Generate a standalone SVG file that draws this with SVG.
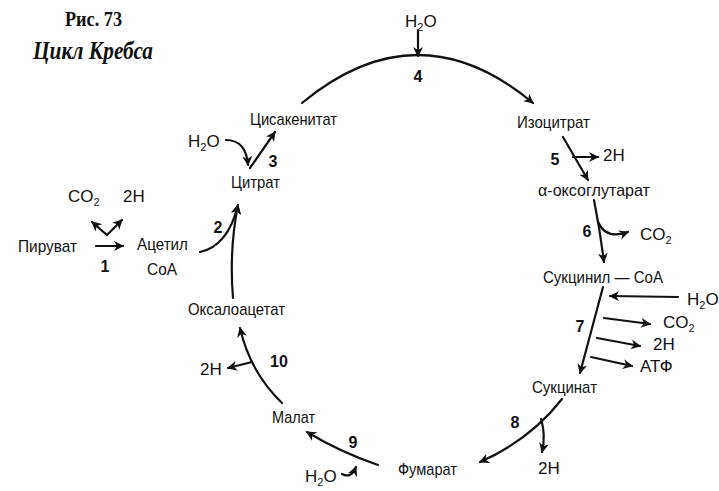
<svg xmlns="http://www.w3.org/2000/svg" width="719" height="491" viewBox="0 0 719 491">
<defs>
<marker id="ah" viewBox="0 0 10 10" refX="9" refY="5" markerWidth="10" markerHeight="10" markerUnits="userSpaceOnUse" orient="auto-start-reverse">
<path d="M0,0 L10,5 L0,10 L3,5 Z" fill="#111"/>
</marker>
<style>
.lbl{font-family:"Liberation Sans",Arial,sans-serif;font-size:17px;fill:#111}
.num{font-family:"Liberation Sans",Arial,sans-serif;font-size:16px;font-weight:bold;fill:#111;text-anchor:middle}
.sub{font-size:11px}
.c path{fill:none;stroke:#111;stroke-width:2.2;stroke-linecap:round}
.a{marker-end:url(#ah)}
</style>
</defs>
<rect width="719" height="491" fill="#fff"/>
<g id="title">
<text x="65" y="26" font-family="Liberation Serif,serif" font-weight="bold" font-size="20" fill="#111" textLength="57" lengthAdjust="spacingAndGlyphs">Рис. 73</text>
<text x="33" y="59" font-family="Liberation Serif,serif" font-weight="bold" font-style="italic" font-size="26" fill="#111" textLength="120" lengthAdjust="spacingAndGlyphs">Цикл Кребса</text>
</g>
<g id="connectors" class="c">
<path class="a" d="M302,103 Q418,7 533,103"/>
<path class="a" d="M418,30 L418,56"/>
<path class="a" d="M563,137 L588,180"/>
<path class="a" d="M573,157 L598,157"/>
<path class="a" d="M594,200 Q600,230 604,262"/>
<path class="a" d="M598,222 Q606,240 628,232"/>
<path class="a" d="M603,287 L580,373"/>
<path class="a" d="M678,297 L610,296"/>
<path class="a" d="M604,318 L650,324"/>
<path class="a" d="M597,338 L640,346"/>
<path class="a" d="M591,357 L632,366"/>
<path class="a" d="M562,399 Q530,440 480,462"/>
<path class="a" d="M541,419 Q546,435 542,452"/>
<path class="a" d="M378,465 Q340,452 307,432"/>
<path class="a" d="M342,474 Q351,479 356,467"/>
<path class="a" d="M282,403 Q250,372 240,328"/>
<path class="a" d="M252,362 L228,368"/>
<path class="a" d="M233,298 Q229,250 238,205"/>
<path class="a" d="M200,252 Q228,246 238,205"/>
<path class="a" d="M226,140 Q246,140 248,165"/>
<path class="a" d="M250,168 L275,132"/>
<path class="a" d="M96,246 L123,246"/>
<path style="marker-start:url(#ah);marker-end:url(#ah)" d="M92,222 L107,235 L122,220"/>
</g>
<g id="n-h2o-4"><text class="lbl" x="405" y="27">H<tspan class="sub" dy="4">2</tspan><tspan dy="-4">O</tspan></text></g>
<g id="n-4"><text class="num" x="418" y="82">4</text></g>
<g id="n-isocitrate"><text class="lbl" x="517" y="128" textLength="73" lengthAdjust="spacingAndGlyphs">Изоцитрат</text></g>
<g id="n-5"><text class="num" x="555" y="165">5</text></g>
<g id="n-2h-5"><text class="lbl" x="603" y="161">2H</text></g>
<g id="n-akg"><text class="lbl" x="538" y="196" textLength="112" lengthAdjust="spacingAndGlyphs">α-оксоглутарат</text></g>
<g id="n-6"><text class="num" x="587" y="237">6</text></g>
<g id="n-co2-6"><text class="lbl" x="640" y="240">CO<tspan class="sub" dy="4">2</tspan></text></g>
<g id="n-succoa"><text class="lbl" x="543" y="283" textLength="120" lengthAdjust="spacingAndGlyphs">Сукцинил — CoA</text></g>
<g id="n-h2o-7"><text class="lbl" x="687" y="305">H<tspan class="sub" dy="4">2</tspan><tspan dy="-4">O</tspan></text></g>
<g id="n-7"><text class="num" x="580" y="332">7</text></g>
<g id="n-co2-7"><text class="lbl" x="663" y="328">CO<tspan class="sub" dy="4">2</tspan></text></g>
<g id="n-2h-7"><text class="lbl" x="653" y="350">2H</text></g>
<g id="n-atp"><text class="lbl" x="640" y="372">АТФ</text></g>
<g id="n-succinate"><text class="lbl" x="532" y="393" textLength="65" lengthAdjust="spacingAndGlyphs">Сукцинат</text></g>
<g id="n-8"><text class="num" x="515" y="428">8</text></g>
<g id="n-2h-8"><text class="lbl" x="538" y="474">2H</text></g>
<g id="n-fumarate"><text class="lbl" x="398" y="475" textLength="59" lengthAdjust="spacingAndGlyphs">Фумарат</text></g>
<g id="n-9"><text class="num" x="353" y="448">9</text></g>
<g id="n-h2o-9"><text class="lbl" x="305" y="482">H<tspan class="sub" dy="4">2</tspan><tspan dy="-4">O</tspan></text></g>
<g id="n-malate"><text class="lbl" x="272" y="423" textLength="43" lengthAdjust="spacingAndGlyphs">Малат</text></g>
<g id="n-10"><text class="num" x="279" y="367">10</text></g>
<g id="n-2h-10"><text class="lbl" x="200" y="375">2H</text></g>
<g id="n-oxaloacetate"><text class="lbl" x="188" y="315" textLength="97" lengthAdjust="spacingAndGlyphs">Оксалоацетат</text></g>
<g id="n-2"><text class="num" x="218" y="233">2</text></g>
<g id="n-citrate"><text class="lbl" x="231" y="188" textLength="49" lengthAdjust="spacingAndGlyphs">Цитрат</text></g>
<g id="n-cisaconitate"><text class="lbl" x="250" y="125" textLength="87" lengthAdjust="spacingAndGlyphs">Цисакенитат</text></g>
<g id="n-h2o-3"><text class="lbl" x="188" y="147">H<tspan class="sub" dy="4">2</tspan><tspan dy="-4">O</tspan></text></g>
<g id="n-3"><text class="num" x="273" y="167">3</text></g>
<g id="n-pyruvate"><text class="lbl" x="18" y="252" textLength="59" lengthAdjust="spacingAndGlyphs">Пируват</text></g>
<g id="n-1"><text class="num" x="105" y="272">1</text></g>
<g id="n-co2-1"><text class="lbl" x="68" y="202">CO<tspan class="sub" dy="4">2</tspan></text></g>
<g id="n-2h-1"><text class="lbl" x="123" y="202">2H</text></g>
<g id="n-acetylcoa"><text class="lbl" x="137" y="250" textLength="51" lengthAdjust="spacingAndGlyphs">Ацетил</text><text class="lbl" x="147" y="275" textLength="30" lengthAdjust="spacingAndGlyphs">CoA</text></g>
</svg>
